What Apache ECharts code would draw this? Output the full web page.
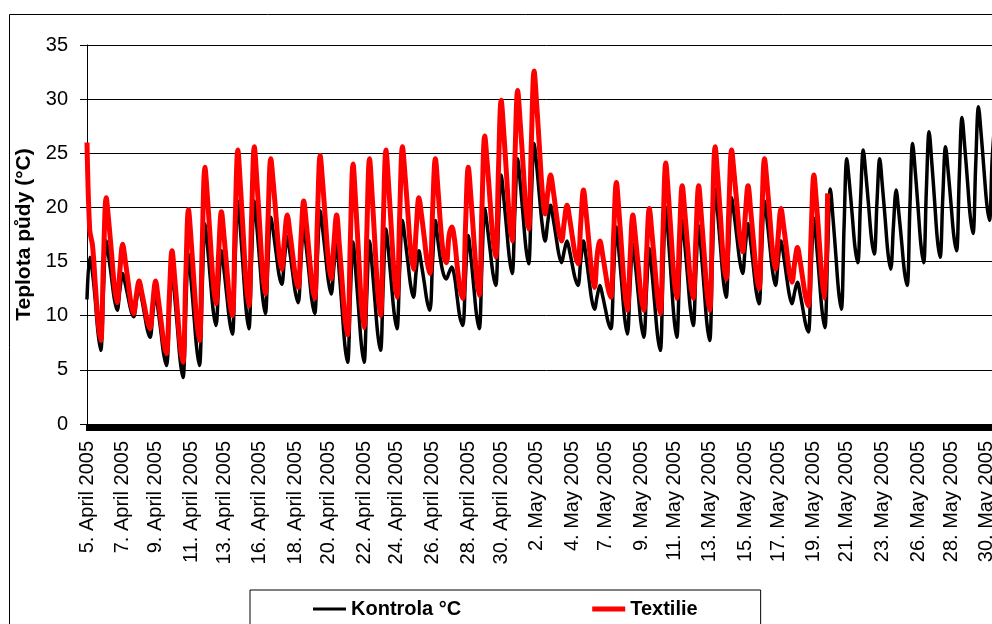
<!DOCTYPE html>
<html>
<head>
<meta charset="utf-8">
<script src="https://cdn.jsdelivr.net/npm/echarts@6/dist/echarts.min.js"></script>
<style>
  html, body { margin: 0; padding: 0; overflow: hidden; background: #fff; width: 992px; height: 624px; }
  #c { width: 1040px; height: 680px; }
</style>
</head>
<body>
<div id="c"></div>
<script>
// Soil temperature, 4-hour readings (6 per day), 5 April - 30 May 2005
const tickLabels = [
  '5. April 2005', '7. April 2005', '9. April 2005', '11. April 2005', '13. April 2005',
  '16. April 2005', '18. April 2005', '20. April 2005', '22. April 2005', '24. April 2005',
  '26. April 2005', '28. April 2005', '30. April 2005', '2. May 2005', '4. May 2005',
  '7. May 2005', '9. May 2005', '11. May 2005', '13. May 2005', '15. May 2005',
  '17. May 2005', '19. May 2005', '21. May 2005', '23. May 2005', '26. May 2005',
  '28. May 2005', '30. May 2005'
];
// reading index at which each date label sits
const tickIndex = [0, 13, 25, 38, 50, 63, 76, 88, 101, 113, 126, 139, 151, 164, 177,
  189, 202, 214, 227, 240, 252, 265, 277, 290, 303, 315, 328];
const readingCount = 336;

const kontrola = [
  11.5,15.4,14.0,11.5,8.5,6.8,
  12.4,16.9,15.3,13.4,11.5,10.5,
  12.4,13.9,12.9,11.7,10.5,9.9,
  11.4,12.6,11.5,10.1,8.7,8.0,
  10.2,12.0,10.4,8.4,6.4,5.4,
  10.2,14.2,11.7,8.8,5.8,4.3,
  10.6,15.7,13.1,10.0,7.0,5.4,
  12.6,18.5,16.2,13.3,10.5,9.1,
  12.9,16.0,14.1,11.8,9.5,8.3,
  15.1,20.6,17.7,14.1,10.6,8.8,
  15.3,20.6,18.0,14.9,11.8,10.2,
  15.1,19.1,17.6,15.7,13.8,12.9,
  15.3,17.3,15.8,13.9,12.1,11.2,
  15.1,18.2,16.2,13.8,11.4,10.2,
  15.4,19.7,17.8,15.5,13.2,12.0,
  14.5,16.6,13.9,10.6,7.3,5.7,
  11.8,16.8,14.0,10.7,7.4,5.7,
  11.9,16.9,14.4,11.3,8.3,6.8,
  13.0,18.0,15.7,12.9,10.2,8.8,
  14.3,18.8,17.0,14.9,12.8,11.7,
  14.1,16.0,14.6,13.0,11.3,10.5,
  15.1,18.8,16.8,15.0,13.8,13.4,
  14.0,14.5,13.6,11.6,9.8,9.1,
  13.7,17.4,15.3,12.7,10.1,8.8,
  14.9,19.9,18.1,16.0,13.9,12.8,
  18.4,23.0,20.7,18.0,15.3,13.9,
  19.7,24.5,22.1,19.2,16.3,14.8,
  20.9,25.9,23.7,20.9,18.3,16.9,
  18.7,20.2,18.9,17.3,15.7,14.9,
  16.0,16.9,15.9,14.6,13.4,12.8,
  15.1,16.9,15.3,13.4,11.5,10.6,
  11.8,12.8,11.8,10.6,9.4,8.8,
  14.0,18.2,15.7,12.8,9.8,8.3,
  12.9,16.6,14.5,11.9,9.3,8.0,
  12.5,16.2,13.9,11.0,8.2,6.8,
  14.1,20.0,17.0,13.4,9.8,8.0,
  13.9,18.8,16.4,13.5,10.6,9.1,
  14.2,18.3,15.7,12.5,9.3,7.7,
  15.4,21.7,19.2,16.2,13.2,11.7,
  16.8,20.9,19.2,17.1,15.0,13.9,
  16.4,18.5,16.7,14.4,12.2,11.1,
  16.3,20.6,18.7,16.3,14.0,12.8,
  15.1,16.9,15.5,13.7,12.0,11.1,
  12.2,13.1,12.0,10.6,9.2,8.5,
  14.3,19.0,16.5,13.4,10.4,8.9,
  15.9,21.7,18.9,15.6,12.3,10.6,
  18.2,24.5,22.1,19.2,16.3,14.9,
  20.6,25.3,22.9,20.0,17.1,15.7,
  20.5,24.5,21.9,18.9,15.8,14.3,
  18.3,21.6,19.4,16.8,14.1,12.8,
  20.0,25.9,23.2,19.9,16.6,14.9,
  21.6,27.0,24.1,20.6,17.1,15.4,
  21.0,25.6,23.2,20.3,17.4,16.0,
  22.8,28.3,25.6,22.4,19.2,17.6,
  24.0,29.3,26.7,23.5,20.4,18.8,
  24.5,28.0
];

const textilie = [
  26.0,17.9,16.5,13.0,9.5,7.7,
  15.0,20.9,18.5,15.6,12.7,11.2,
  14.2,16.6,15.0,13.1,11.2,10.2,
  11.9,13.2,12.1,10.8,9.5,8.8,
  11.2,13.2,11.5,9.5,7.5,6.5,
  11.7,16.0,13.4,10.3,7.2,5.7,
  13.5,19.8,16.8,13.1,9.5,7.7,
  16.5,23.7,20.6,16.8,13.0,11.1,
  15.8,19.6,17.2,14.3,11.4,10.0,
  18.4,25.3,21.7,17.4,13.1,10.9,
  19.0,25.6,22.2,18.1,14.0,12.0,
  18.9,24.5,22.0,18.9,15.8,14.3,
  17.1,19.3,17.6,15.6,13.6,12.6,
  17.0,20.6,18.4,15.7,13.0,11.6,
  18.9,24.8,22.0,18.5,15.1,13.4,
  16.6,19.3,16.5,13.2,9.9,8.2,
  16.9,24.0,20.2,15.7,11.2,8.9,
  17.5,24.5,20.9,16.5,12.2,10.0,
  18.4,25.3,21.9,17.8,13.7,11.7,
  19.3,25.6,22.8,19.4,16.0,14.3,
  17.9,20.9,19.2,17.1,15.0,13.9,
  19.7,24.5,21.5,18.0,15.6,14.9,
  17.4,18.2,17.0,14.5,12.5,11.6,
  18.3,23.7,20.8,17.2,13.7,11.9,
  20.0,26.6,23.8,20.4,17.1,15.4,
  23.4,29.9,26.7,22.8,18.9,16.9,
  24.5,30.8,27.6,23.8,19.9,18.0,
  26.0,32.6,29.3,25.3,21.4,19.4,
  21.4,23.0,21.5,19.6,17.8,16.9,
  18.7,20.2,18.9,17.2,15.6,14.8,
  18.5,21.6,19.4,16.7,14.0,12.6,
  15.6,16.9,15.6,14.0,12.5,11.7,
  17.5,22.3,19.4,15.8,12.3,10.5,
  15.3,19.3,17.1,14.5,11.8,10.5,
  15.7,19.9,17.5,14.6,11.7,10.2,
  17.8,24.1,21.0,17.2,13.5,11.6,
  17.3,22.0,19.4,16.3,13.2,11.6,
  17.3,22.0,19.1,15.7,12.2,10.5,
  18.8,25.6,22.6,18.9,15.2,13.4,
  19.9,25.3,22.9,20.1,17.3,15.9,
  19.3,22.0,19.6,16.8,13.9,12.5,
  19.1,24.5,22.0,18.9,15.8,14.3,
  17.4,19.9,18.2,16.2,14.1,13.1,
  14.9,16.3,15.0,13.3,11.7,10.9,
  17.6,23.0,20.2,16.7,13.3,11.6,
  21.3
];

// one category per reading; only the dated ones carry a label
const categories = [];
for (let i = 0; i < readingCount; i++) {
  const j = tickIndex.indexOf(i);
  categories.push(j >= 0 ? tickLabels[j] : '');
}
const isTick = (i) => tickIndex.indexOf(i) >= 0;

const FONT = "'Liberation Sans', Arial, sans-serif";
const chart = echarts.init(document.getElementById('c'), null, { renderer: 'canvas' });

chart.setOption({
  animation: false,
  backgroundColor: '#fff',
  textStyle: { fontFamily: FONT },
  graphic: [{
    type: 'rect',
    shape: { x: 9.5, y: 14.5, width: 1100, height: 800 },
    style: { fill: 'none', stroke: '#000', lineWidth: 1 },
    silent: true,
    z: -10
  }],
  grid: { left: 87, top: 45, right: 34.1, bottom: 256, containLabel: false },
  legend: {
    left: 250,
    top: 590,
    padding: [9, 63, 30, 63],
    itemGap: 131,
    itemWidth: 33,
    itemHeight: 14,
    symbolKeepAspect: true,
    borderColor: '#000',
    borderWidth: 1,
    textStyle: { fontFamily: FONT, fontSize: 20, fontWeight: 'bold', color: '#000' },
    data: [
      { name: 'Kontrola °C', icon: 'path://M0,0L33,0L33,3L0,3Z' },
      { name: 'Textilie', icon: 'path://M0,0L33,0L33,5L0,5Z' }
    ]
  },
  xAxis: {
    type: 'category',
    data: categories,
    boundaryGap: false,
    axisLine: { show: true, lineStyle: { color: '#000', width: 1 } },
    axisTick: { show: true, interval: 0, length: 7, lineStyle: { color: '#000', width: 3 } },
    axisLabel: {
      interval: (i) => isTick(i),
      rotate: 90,
      margin: 17,
      fontFamily: FONT,
      fontSize: 20,
      color: '#000'
    },
    splitLine: { show: false }
  },
  yAxis: {
    type: 'value',
    min: 0,
    max: 35,
    interval: 5,
    name: 'Teplota půdy (°C)',
    nameLocation: 'middle',
    nameGap: 44,
    nameRotate: 90,
    nameTextStyle: { fontFamily: FONT, fontSize: 21, fontWeight: 'bold', color: '#000' },
    axisLine: { show: true, lineStyle: { color: '#000', width: 1 } },
    axisTick: { show: true, length: 7, lineStyle: { color: '#000' } },
    axisLabel: { margin: 19, fontFamily: FONT, fontSize: 20, color: '#000' },
    splitLine: { show: true, lineStyle: { color: '#000', width: 1 } }
  },
  series: [
    {
      name: 'Kontrola °C',
      type: 'line',
      data: kontrola,
      showSymbol: false,
      symbol: 'none',
      smooth: 0.35,
      clip: false,
      color: '#000',
      lineStyle: { color: '#000', width: 3.5, join: 'round' },
      z: 2
    },
    {
      name: 'Textilie',
      type: 'line',
      data: textilie,
      showSymbol: false,
      symbol: 'none',
      smooth: 0.35,
      clip: false,
      color: '#ff0000',
      lineStyle: { color: '#ff0000', width: 5, join: 'round' },
      z: 3
    }
  ]
});
</script>
</body>
</html>
